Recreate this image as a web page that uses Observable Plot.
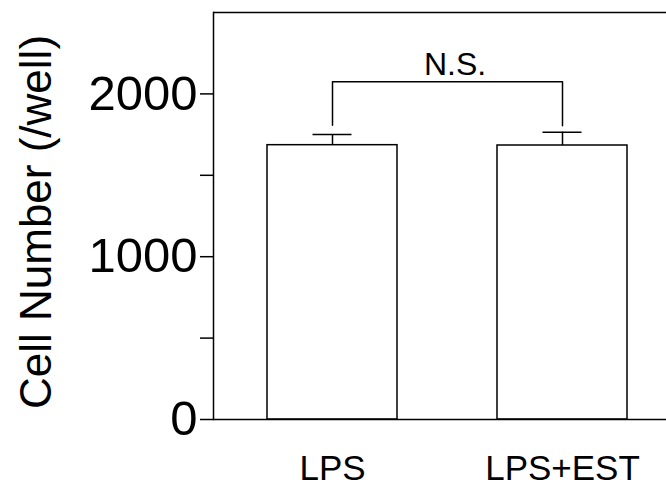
<!DOCTYPE html>
<html>
<head>
<meta charset="utf-8">
<script src="https://cdn.jsdelivr.net/npm/d3@7"></script>
<script src="https://cdn.jsdelivr.net/npm/@observablehq/plot@0.6"></script>
<style>
  html, body { margin: 0; padding: 0; background: white; }
</style>
</head>
<body>
<div id="chart"></div>
<script>
const categories = ["LPS", "LPS+EST"];
const means = [1685, 1683];
const errors = [65, 82];
const yTicks = [0, 500, 1000, 1500, 2000];
const yLabeled = [0, 1000, 2000];
const bracketLevel = 2075;
const bracketLegEnds = [1808, 1805];
const sigLabel = "N.S.";
const yTitle = "Cell Number (/well)";

const data = categories.map((c, i) => ({cat: c, mean: means[i], err: errors[i]}));
const bracket = [
  {cat: categories[0], y: bracketLegEnds[0]},
  {cat: categories[0], y: bracketLevel},
  {cat: categories[1], y: bracketLevel},
  {cat: categories[1], y: bracketLegEnds[1]}
];

const chart = Plot.plot({
  width: 666,
  height: 488,
  marginLeft: 213,
  marginRight: 0,
  marginTop: 12,
  marginBottom: 69,
  style: {fontFamily: "'Liberation Sans', Arial, sans-serif", background: "white", color: "black"},
  x: {domain: categories, paddingInner: 0.435, paddingOuter: 0.2, align: 0.58, label: null},
  y: {domain: [0, 2500], label: null},
  marks: [
    Plot.barY(data, {x: "cat", y: "mean", fill: "white", stroke: "black", strokeWidth: 1.5}),
    Plot.ruleX(data, {x: "cat", y1: "mean", y2: d => d.mean + d.err, strokeWidth: 1.5}),
    Plot.tickY(data, {x: "cat", y: d => d.mean + d.err, insetLeft: 45.5, insetRight: 45.5, strokeWidth: 1.5}),
    Plot.line(bracket, {x: "cat", y: "y", strokeWidth: 1.5}),
    Plot.text([{y: bracketLevel, label: sigLabel}], {y: "y", text: "label", frameAnchor: "middle", dx: 15, dy: -7, lineAnchor: "bottom", fontSize: 32}),
    Plot.ruleY([0, 2500], {strokeWidth: 1.5}),
    Plot.frame({anchor: "left", strokeWidth: 1.5}),
    Plot.axisY({ticks: yTicks, tickSize: 13, tickPadding: 3, fontSize: 49, strokeWidth: 1.5, label: null,
      tickFormat: d => yLabeled.includes(d) ? String(d) : ""}),
    Plot.axisX({tickSize: 0, tickPadding: 36, fontSize: 35, label: null}),
    Plot.text([yTitle], {frameAnchor: "left", textAnchor: "middle", dx: -163, dy: 6, rotate: -90, lineAnchor: "bottom", fontSize: 44})
  ]
});
document.getElementById("chart").appendChild(chart);
</script>
</body>
</html>
